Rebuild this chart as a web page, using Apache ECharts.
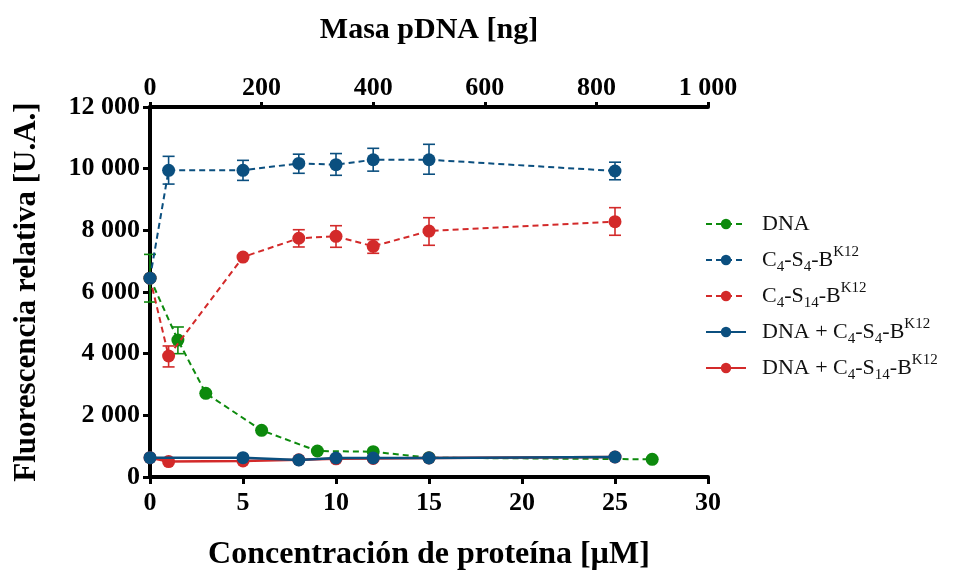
<!DOCTYPE html>
<html><head><meta charset="utf-8">
<script src="https://cdn.jsdelivr.net/npm/echarts@6/dist/echarts.min.js"></script>
<style>html,body{margin:0;padding:0;background:#fff}#c{width:972px;height:572px}</style>
</head><body><div id="c"></div>
<script>
// ---- data ----
const protConc = [0, 1, 5, 8, 10, 12, 15, 25];           // µM (bottom axis)
const dnaMass = [0, 50, 100, 200, 300, 400, 500, 900];    // ng (top axis)
const dnaVals = [6450, 4440, 2714, 1514, 843, 820, 626, 574];
const dnaErrLo = [5675, 4000, null, null, null, null, null, null];
const dnaErrHi = [7220, 4865, null, null, null, null, null, null];
const s4Vals = [6450, 9947, 9947, 10170, 10130, 10290, 10290, 9925];
const s4ErrLo = [null, 9500, 9620, 9850, 9785, 9920, 9820, 9640];
const s4ErrHi = [null, 10400, 10270, 10470, 10490, 10660, 10790, 10210];
const s14Vals = [6450, 3924, 7134, 7743, 7805, 7482, 7977, 8280];
const s14ErrLo = [null, 3570, null, 7460, 7450, 7255, 7515, 7840];
const s14ErrHi = [null, 4250, null, 8020, 8150, 7700, 8410, 8735];
const mixS4Conc = [0, 5, 8, 10, 12, 15, 25];
const mixS4Vals = [626, 626, 551, 616, 616, 616, 649];
const mixS14Vals = [626, 500, 520, 560, 590, 600, 616, 649];
const xBottomTicks = [0, 5, 10, 15, 20, 25, 30];
const xTopTicks = [0, 200, 400, 600, 800, 1000];
const yTicks = [0, 2000, 4000, 6000, 8000, 10000, 12000];

const GREEN = '#0d8a0d', BLUE = '#0b4f7f', RED = '#d32a2a';
const FONT = '"Liberation Serif","Times New Roman",serif';
const fmt = v => { const s = String(Math.round(v)); return s.length > 3 ? s.slice(0, -3) + ' ' + s.slice(-3) : s; };

const pairs = (xs, ys) => xs.map((x, i) => [x, ys[i]]);
const errPairs = (xs, lo, hi) => xs.map((x, i) => [x, lo[i], hi[i]]).filter(d => d[1] != null);

function errSeries(data, color, xi) {
  return {
    type: 'custom', xAxisIndex: xi, yAxisIndex: 0, data: data, z: 2, silent: true,
    renderItem: (params, api) => {
      const x = api.value(0), lo = api.value(1), hi = api.value(2);
      const a = api.coord([x, hi]), b = api.coord([x, lo]);
      const w = 6;
      const st = { stroke: color, lineWidth: 1.6 };
      return { type: 'group', children: [
        { type: 'line', shape: { x1: a[0], y1: a[1], x2: b[0], y2: b[1] }, style: st },
        { type: 'line', shape: { x1: a[0] - w, y1: a[1], x2: a[0] + w, y2: a[1] }, style: st },
        { type: 'line', shape: { x1: b[0] - w, y1: b[1], x2: b[0] + w, y2: b[1] }, style: st }
      ]};
    }
  };
}

function lineSeries(name, data, color, dashed, xi, z) {
  return {
    name: name, type: 'line', xAxisIndex: xi, yAxisIndex: 0, data: data, z: z,
    symbol: 'circle', symbolSize: 13, showSymbol: true,
    lineStyle: { color: color, width: dashed ? 2 : 2.5, type: dashed ? [6, 4] : 'solid' },
    itemStyle: { color: color }, emphasis: { disabled: true }
  };
}

const legendLabels = {
  'DNA': '{n|DNA}{sub| }',
  'S4': '{n|C}{sub|4}{n|-S}{sub|4}{n|-B}{sup|K12}',
  'S14': '{n|C}{sub|4}{n|-S}{sub|14}{n|-B}{sup|K12}',
  'MixS4': '{n|DNA + C}{sub|4}{n|-S}{sub|4}{n|-B}{sup|K12}',
  'MixS14': '{n|DNA + C}{sub|4}{n|-S}{sub|14}{n|-B}{sup|K12}'
};

const axisBase = {
  axisLine: { show: true, onZero: false, lineStyle: { color: '#000', width: 4 } },
  axisTick: { show: true, inside: false, length: 7, lineStyle: { color: '#000', width: 3 } },
  splitLine: { show: false },
  axisLabel: { color: '#000', fontFamily: FONT, fontWeight: 'bold', fontSize: 26, formatter: fmt },
  nameTextStyle: { color: '#000', fontFamily: FONT, fontWeight: 'bold', fontSize: 32 }
};

const chart = echarts.init(document.getElementById('c'), null, { renderer: 'canvas' });
chart.setOption({
  animation: false,
  backgroundColor: '#fff',
  grid: { left: 150, right: 264, top: 107, bottom: 95, containLabel: false, outerBoundsMode: 'none' },
  xAxis: [
    Object.assign({}, axisBase, {
      type: 'value', position: 'bottom', min: 0, max: 30, interval: 5,
      name: 'Concentración de proteína [µM]', nameLocation: 'middle', nameGap: 62,
      axisLabel: Object.assign({}, axisBase.axisLabel, { margin: 13 })
    }),
    Object.assign({}, axisBase, {
      type: 'value', position: 'top', min: 0, max: 1000, interval: 200,
      name: 'Masa pDNA [ng]', nameLocation: 'middle', nameGap: 62,
      nameTextStyle: Object.assign({}, axisBase.nameTextStyle, { fontSize: 30 }),
      axisTick: Object.assign({}, axisBase.axisTick, { length: 5 }),
      axisLabel: Object.assign({}, axisBase.axisLabel, { margin: 6 })
    })
  ],
  yAxis: [Object.assign({}, axisBase, {
    type: 'value', min: 0, max: 12000, interval: 2000,
    name: 'Fluorescencia relativa [U.A.]', nameLocation: 'middle', nameGap: 108, nameRotate: 90,
    nameTextStyle: Object.assign({}, axisBase.nameTextStyle, { fontSize: 31 }),
    axisLabel: Object.assign({}, axisBase.axisLabel, { margin: 10 })
  })],
  legend: {
    orient: 'vertical', left: 700, top: 208, itemGap: 6, itemWidth: 40, itemHeight: 13,
    data: ['DNA', 'S4', 'S14', 'MixS4', 'MixS14'],
    formatter: n => legendLabels[n],
    textStyle: {
      padding: [0, 0, 0, 11],
      rich: {
        n: { fontFamily: FONT, fontSize: 22, color: '#111', lineHeight: 30, verticalAlign: 'middle' },
        sub: { fontFamily: FONT, fontSize: 15, color: '#111', lineHeight: 10, verticalAlign: 'bottom' },
        sup: { fontFamily: FONT, fontSize: 15, color: '#111', lineHeight: 12, verticalAlign: 'top' }
      }
    },
    selectedMode: false
  },
  series: [
    errSeries(errPairs(dnaMass, dnaErrLo, dnaErrHi), GREEN, 1),
    errSeries(errPairs(protConc, s4ErrLo, s4ErrHi), BLUE, 0),
    errSeries(errPairs(protConc, s14ErrLo, s14ErrHi), RED, 0),
    lineSeries('DNA', pairs(dnaMass, dnaVals), GREEN, true, 1, 3),
    lineSeries('S14', pairs(protConc, s14Vals), RED, true, 0, 4),
    lineSeries('S4', pairs(protConc, s4Vals), BLUE, true, 0, 5),
    lineSeries('MixS14', pairs(protConc, mixS14Vals), RED, false, 0, 6),
    lineSeries('MixS4', pairs(mixS4Conc, mixS4Vals), BLUE, false, 0, 7)
  ]
});
</script></body></html>
